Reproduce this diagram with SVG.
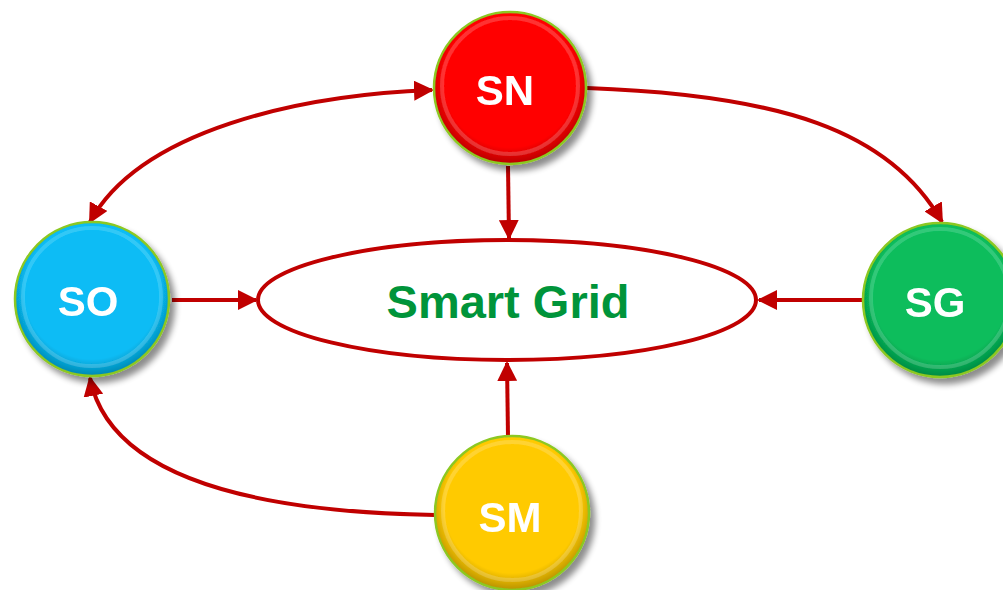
<svg xmlns="http://www.w3.org/2000/svg" width="1003" height="590" viewBox="0 0 1003 590">
<style>
.conn{fill:none;stroke:#c00000;stroke-width:4}
.lbl{font-family:"Liberation Sans",Arial,sans-serif;font-weight:bold;font-size:42px;fill:#fff;text-anchor:middle}
.rim{fill:none;stroke:#8cc820;stroke-width:2.5}
.shine{fill:none;stroke:#fff;stroke-opacity:0.18;stroke-width:4}
</style>
<defs>
<marker id="ah" viewBox="0 0 10 10" refX="9" refY="5" markerWidth="5" markerHeight="5" orient="auto-start-reverse" markerUnits="strokeWidth">
<path d="M0,0 L10,5 L0,10 z" fill="#c00000"/>
</marker>
<filter id="sh" x="-20%" y="-20%" width="150%" height="150%">
<feGaussianBlur in="SourceAlpha" stdDeviation="3"/>
<feOffset dx="5" dy="6" result="b"/>
<feComponentTransfer><feFuncA type="linear" slope="0.45"/></feComponentTransfer>
<feMerge><feMergeNode/><feMergeNode in="SourceGraphic"/></feMerge>
</filter>
<radialGradient id="edge" cx="50%" cy="45%" r="55%">
<stop offset="0.8" stop-color="#000" stop-opacity="0"/>
<stop offset="1" stop-color="#000" stop-opacity="0.28"/>
</radialGradient>
</defs>
<g id="connectors">
<path class="conn" d="M508,166 L509,238" marker-end="url(#ah)"/>
<path class="conn" d="M172,300 L256,300" marker-end="url(#ah)"/>
<path class="conn" d="M862,300 L759,300" marker-end="url(#ah)"/>
<path class="conn" d="M508,437 L507,363" marker-end="url(#ah)"/>
<path class="conn" d="M587,88 C780,95 890,130 942,222" marker-end="url(#ah)"/>
<path class="conn" d="M90,222 C140,130 300,95 432,90" marker-start="url(#ah)" marker-end="url(#ah)"/>
<path class="conn" d="M435,515 C260,512 110,480 90,378" marker-end="url(#ah)"/>
</g>
<g id="smart-grid">
<ellipse cx="507" cy="300" rx="249" ry="60" fill="#fff" stroke="#c00000" stroke-width="4"/>
<text x="508" y="318" font-family="'Liberation Sans',Arial,sans-serif" font-weight="bold" font-size="47" fill="#00943a" text-anchor="middle">Smart Grid</text>
</g>
<g id="SN" filter="url(#sh)">
<circle cx="510" cy="88" r="76" fill="#ff0505"/>
<circle cx="510" cy="88" r="76" fill="url(#edge)"/>
<circle cx="510" cy="86" r="68" class="shine"/>
<circle cx="510" cy="88" r="76" class="rim"/>
<text class="lbl" x="505" y="105">SN</text>
</g>
<g id="SO" filter="url(#sh)">
<circle cx="92" cy="299" r="77" fill="#07bcf5"/>
<circle cx="92" cy="299" r="77" fill="url(#edge)"/>
<circle cx="92" cy="297" r="69" class="shine"/>
<circle cx="92" cy="299" r="77" class="rim"/>
<text class="lbl" x="88" y="316">SO</text>
</g>
<g id="SG" filter="url(#sh)">
<circle cx="940" cy="300" r="77" fill="#07bd5c"/>
<circle cx="940" cy="300" r="77" fill="url(#edge)"/>
<circle cx="940" cy="298" r="69" class="shine"/>
<circle cx="940" cy="300" r="77" class="rim"/>
<text class="lbl" x="935" y="317">SG</text>
</g>
<g id="SM" filter="url(#sh)">
<circle cx="512" cy="513" r="77" fill="#ffca05"/>
<circle cx="512" cy="513" r="77" fill="url(#edge)"/>
<circle cx="512" cy="511" r="69" class="shine"/>
<circle cx="512" cy="513" r="77" class="rim"/>
<text class="lbl" x="510" y="532">SM</text>
</g>
</svg>
